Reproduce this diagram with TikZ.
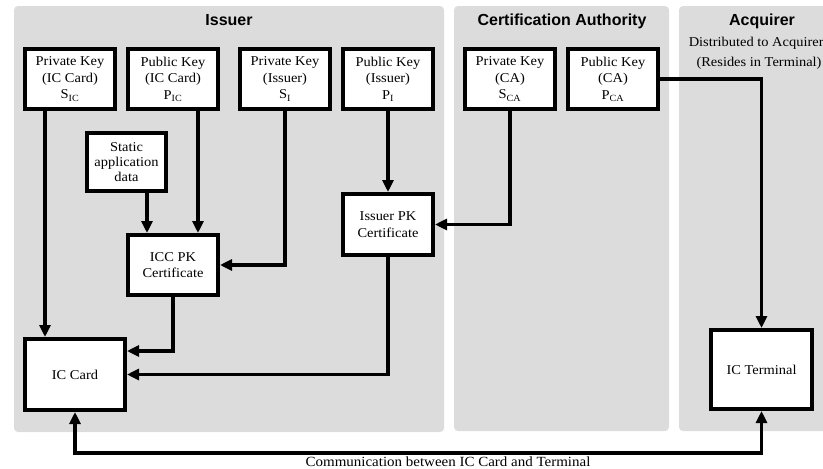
\documentclass[tikz,border=0pt]{standalone}
\usepackage{fontspec}
\setmainfont{Liberation Serif}[FakeStretch=1.07]
\newfontfamily\headfont{Liberation Sans}
\usetikzlibrary{arrows.meta}
\definecolor{panelgray}{RGB}{220,220,220}
\begin{document}
\begin{tikzpicture}[x=1pt,y=-1pt,
  panel/.style={fill=panelgray, rounded corners=4pt},
  head/.style={anchor=base, font=\headfont\bfseries\fontsize{16}{18}\selectfont},
  keybox/.style={draw, fill=white, line width=4pt, align=center, inner sep=0pt,
    minimum width=90pt, minimum height=60pt, font=\fontsize{13.5}{16.5}\selectfont},
  arr/.style={line width=3.3pt, -{Triangle[length=12pt,width=11pt]}},
  dblarr/.style={line width=3.3pt, {Triangle[length=12pt,width=11pt]}-{Triangle[length=12pt,width=11pt]}},
  note/.style={align=center, font=\fontsize{13.5}{20}\selectfont},
  ]
\useasboundingbox (0,0) rectangle (823,469);
\begin{scope}
\clip (0,0) rectangle (823,469);

% organisation panels
\fill[panel] (14,6) rectangle (444,432);
\fill[panel] (454,6) rectangle (669,431);
\fill[panel] (679,6) rectangle (840,431);

\node[head] (hiss) at (229,25.5) {Issuer};
\node[head] (hca) at (562,25.5) {Certification Authority};
\node[head] (hacq) at (762,25.5) {Acquirer};
\node[note] (dist) at (759,53) {Distributed to Acquirers\\(Resides in Terminal)};

% keys
\node[keybox] (kic) at (70,79) {Private Key\\(IC Card)\\S\textsubscript{IC}};
\node[keybox] (pic) at (173,79) {Public Key\\(IC Card)\\P\textsubscript{IC}};
\node[keybox] (sis) at (285,79) {Private Key\\(Issuer)\\S\textsubscript{I}};
\node[keybox] (pis) at (388,79) {Public Key\\(Issuer)\\P\textsubscript{I}};
\node[keybox] (sca) at (510,79) {Private Key\\(CA)\\S\textsubscript{CA}};
\node[keybox] (pca) at (613,79) {Public Key\\(CA)\\P\textsubscript{CA}};

% data, certificates and devices
\node[keybox, minimum width=79pt, minimum height=58pt, font=\fontsize{13.5}{15}\selectfont] (sad) at (126.5,162) {Static\\application\\data};
\node[keybox] (icc) at (173,265) {ICC PK\\Certificate};
\node[keybox, minimum height=61pt] (ipk) at (388,224.5) {Issuer PK\\Certificate};
\node[keybox, minimum width=100pt, minimum height=71pt] (icard) at (75,374.5) {IC Card};
\node[keybox, minimum width=101pt, minimum height=79pt] (term) at (761.5,369.5) {IC Terminal};

% connectors
\draw[arr] ([xshift=-25pt]kic.south) -- ([xshift=-25pt]kic.south |- icard.north);
\draw[arr] ([xshift=25pt]pic.south) -- ([xshift=25pt]pic.south |- icc.north);
\draw[arr] ([xshift=20.5pt]sad.south) -- ([xshift=20.5pt]sad.south |- icc.north);
\draw[arr] (sis.south) |- (icc.east);
\draw[arr] (pis.south) -- (ipk.north);
\draw[arr] (sca.south) |- (ipk.east);
\draw[arr] (pca.east) -| (term.north);
\draw[arr] (icc.south) |- ([yshift=23.5pt]icard.east);
\draw[arr] (ipk.south) |- (icard.east);

\coordinate (bus) at (448,453);
\draw[dblarr] (icard.south) |- (bus) -| (term.south);
\node[font=\fontsize{14}{16}\selectfont, anchor=base, inner sep=0pt] (comm) at ([yshift=-13pt]bus) {Communication between IC Card and Terminal};
\end{scope}
\end{tikzpicture}
\end{document}
